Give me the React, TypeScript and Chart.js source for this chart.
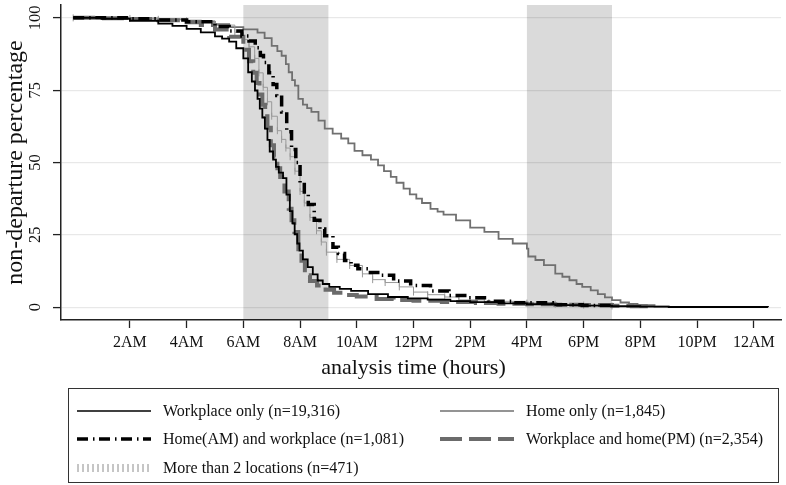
import React, { useEffect, useRef } from "react";
import { Chart, registerables } from "chart.js";

Chart.register(...registerables);

// ---- axis / tick data ----
const tickHours = [2, 4, 6, 8, 10, 12, 14, 16, 18, 20, 22, 24];
const tickLabels = ["2AM", "4AM", "6AM", "8AM", "10AM", "12PM", "2PM", "4PM", "6PM", "8PM", "10PM", "12AM"];
const yTickValues = [0, 25, 50, 75, 100];
const shadedStart = [6, 16];
const shadedEnd = [9, 19];

// ---- series ----
const workplaceHours = [0, 1, 2, 3, 3.5, 4, 4.5, 5, 5.25, 5.5, 5.75, 6, 6.17, 6.3, 6.41, 6.5, 6.58, 6.67, 6.76, 6.85, 6.93, 7.05, 7.15, 7.25, 7.4, 7.52, 7.64, 7.73, 7.81, 7.9, 7.98, 8.1, 8.27, 8.45, 8.62, 8.8, 9.03, 9.4, 9.8, 10.4, 11.1, 11.8, 12.5, 13.3, 14, 15, 16, 17, 18, 19, 20, 21, 24.5];
const workplaceValues = [100, 99.7, 99, 98, 97.2, 96.2, 95, 93.6, 92.8, 91.8, 89.5, 86, 81.2, 78, 74.9, 72, 68.6, 65.5, 61.7, 57.8, 53.8, 51, 48.5, 46.5, 44.6, 38.9, 33.2, 29, 25.2, 22, 19.5, 16.5, 13.8, 11.3, 9.2, 8, 7, 6.3, 5.6, 4.5, 3.5, 3, 2.6, 2.1, 1.7, 1.3, 1, 0.7, 0.5, 0.3, 0.15, 0.05, 0];

const homeHours = [0, 1, 2, 3, 4, 4.5, 5, 5.5, 6, 6.5, 6.75, 7, 7.2, 7.35, 7.5, 7.6, 7.72, 7.82, 7.94, 8.1, 8.25, 8.4, 8.65, 8.87, 9.15, 9.45, 9.7, 9.92, 10.2, 10.5, 10.75, 10.96, 11.2, 11.4, 11.65, 11.87, 12.1, 12.3, 12.6, 12.85, 13.06, 13.5, 14, 14.5, 15, 15.5, 16, 16.05, 16.3, 16.6, 17, 17.25, 17.5, 17.75, 17.95, 18.25, 18.5, 18.75, 19, 19.3, 19.6, 19.9, 20.5, 21];
const homeValues = [100, 99.9, 99.8, 99.5, 99, 98.6, 97.8, 96.8, 96, 94.9, 93, 90.3, 88.5, 86.9, 84, 81.2, 78.5, 76.6, 72, 70, 68.8, 67.5, 64.5, 61.7, 60, 58.3, 56.6, 54, 52.5, 51, 49, 47, 45, 43, 41, 39, 37.5, 36, 34, 33, 32, 30, 27.5, 26, 23.6, 22, 20.2, 17.5, 16.3, 14.5, 11.6, 10.5, 9.3, 8, 7, 5.8, 4.5, 3.4, 2.4, 1.6, 1.1, 0.7, 0.2, 0];

const homeAmHours = [0, 2, 3, 4, 5, 5.5, 5.95, 6.2, 6.42, 6.6, 6.71, 6.9, 7.05, 7.18, 7.35, 7.53, 7.7, 7.85, 8.0, 8.15, 8.29, 8.5, 8.7, 8.87, 9.16, 9.35, 9.57, 9.8, 10.04, 10.4, 10.74, 11.3, 11.9, 12.6, 13.25, 13.9, 14.65, 15.5, 16.9, 17.95, 19];
const homeAmValues = [100, 99.7, 99.3, 98.7, 97, 95.5, 93.7, 92, 89.7, 87, 84.6, 81, 77, 73.2, 67.5, 60.6, 54.5, 50, 43, 39, 35.5, 30, 27, 24.7, 20.7, 18.5, 16.1, 14.5, 13.3, 12, 11, 9, 7.5, 5.6, 4, 3.2, 2, 1.5, 0.8, 0.6, 0.3];

const pmHours = [0, 1, 2, 3, 4, 4.5, 5, 5.5, 6, 6.2, 6.35, 6.47, 6.57, 6.67, 6.77, 6.85, 6.97, 7.08, 7.2, 7.3, 7.45, 7.6, 7.7, 7.8, 7.94, 8.05, 8.17, 8.35, 8.6, 8.9, 9.2, 9.6, 10, 10.7, 11.3, 12, 13, 14.2, 15, 16, 17, 17.9, 19, 19.7, 20.4];
const pmValues = [100, 99.9, 99.6, 99.2, 98.5, 97.5, 96, 93.5, 89, 85, 81, 77.5, 73.5, 70, 66, 62, 56, 52, 48, 45, 40, 34, 30, 26, 20, 16, 11, 9, 7.5, 6, 5, 4.2, 3.7, 2.8, 2.5, 2.2, 1.8, 1.4, 1.2, 1, 0.8, 0.7, 0.5, 0.3, 0];

const more2Hours = [0, 2, 3, 4, 5, 5.7, 6, 6.2, 6.4, 6.55, 6.7, 6.85, 7, 7.2, 7.35, 7.5, 7.65, 7.82, 8.0, 8.15, 8.35, 8.58, 8.75, 8.93, 9.3, 9.75, 10.2, 10.56, 11, 11.5, 12, 12.5, 13.1, 13.6, 14.5, 16, 17, 18, 19];
const more2Values = [100, 99.8, 99.5, 99, 97.5, 95, 92.5, 90, 86, 81, 76, 71, 66, 61, 58, 55, 52, 47, 40, 36, 31, 26.4, 22.5, 19, 16.5, 14.4, 11.5, 9.5, 8.5, 7, 5.2, 4.3, 3.5, 2.5, 2, 1.4, 1, 0.7, 0.4];

const legendWorkplace = "Workplace only (n=19,316)";
const legendHome = "Home only (n=1,845)";
const legendHomeAm = "Home(AM) and workplace (n=1,081)";
const legendPm = "Workplace and home(PM) (n=2,354)";
const legendMore2 = "More than 2 locations (n=471)";

const yTitle = "non-departure percentage";
const xTitle = "analysis time (hours)";

const SERIF = "'Liberation Serif', 'Times New Roman', serif";

const pts = (xs: number[], ys: number[]) => xs.map((x, i) => ({ x, y: ys[i] }));

const decorPlugin = {
  id: "decor",
  beforeDraw(chart: any) {
    const { ctx, chartArea, scales } = chart;
    const x = scales.x;
    ctx.save();
    ctx.fillStyle = "#dadada";
    shadedStart.forEach((s, i) => {
      const x0 = x.getPixelForValue(s);
      const x1 = x.getPixelForValue(shadedEnd[i]);
      ctx.fillRect(x0, chartArea.top, x1 - x0, chartArea.bottom - chartArea.top);
    });
    ctx.restore();
  },
  afterDraw(chart: any) {
    const { ctx, chartArea, scales } = chart;
    const x = scales.x;
    const y = scales.y;
    ctx.save();
    ctx.fillStyle = "#111";
    ctx.textAlign = "center";
    ctx.textBaseline = "middle";
    // y tick labels (rotated)
    ctx.font = `16.5px ${SERIF}`;
    yTickValues.forEach((v) => {
      const py = y.getPixelForValue(v);
      ctx.save();
      ctx.translate(chartArea.left - 25, py);
      ctx.rotate(-Math.PI / 2);
      ctx.fillText(String(v), 0, 0);
      ctx.restore();
    });
    // x tick labels
    ctx.font = `16px ${SERIF}`;
    tickHours.forEach((h, i) => {
      ctx.fillText(tickLabels[i], x.getPixelForValue(h), chartArea.bottom + 23);
    });
    // titles
    ctx.font = `22px ${SERIF}`;
    ctx.fillText(xTitle, x.getPixelForValue(12), chartArea.bottom + 48);
    ctx.font = `24px ${SERIF}`;
    ctx.save();
    ctx.translate(16, (chartArea.top + chartArea.bottom) / 2);
    ctx.rotate(-Math.PI / 2);
    ctx.fillText(yTitle, 0, 0);
    ctx.restore();
    ctx.restore();
  },
};

function Sample({ kind }: { kind: string }) {
  const w = 74;
  const h = 12;
  if (kind === "workplace") return (<svg width={w} height={h}><line x1={0} y1={6} x2={w} y2={6} stroke="#000" strokeWidth={1.6} /></svg>);
  if (kind === "home") return (<svg width={w} height={h}><line x1={0} y1={6} x2={w} y2={6} stroke="#707070" strokeWidth={1.6} /></svg>);
  if (kind === "homeAm") return (<svg width={w} height={h}><line x1={0} y1={6} x2={w} y2={6} stroke="#000" strokeWidth={3.5} strokeDasharray="11 5 1.5 4.5" /></svg>);
  if (kind === "pm") return (<svg width={w} height={h}><line x1={0} y1={6} x2={w} y2={6} stroke="#6b6b6b" strokeWidth={4} strokeDasharray="22 7" /></svg>);
  const ticks = [];
  for (let i = 0; i < 15; i++) ticks.push(<line key={i} x1={1 + i * 5} y1={2} x2={1 + i * 5} y2={10} stroke="#8c8c8c" strokeWidth={1} />);
  return (<svg width={w} height={h}>{ticks}</svg>);
}

function LegendItem({ kind, text, left, top }: { kind: string; text: string; left: number; top: number }) {
  return (
    <div style={{ position: "absolute", left, top: top - 10, height: 20, display: "flex", alignItems: "center", whiteSpace: "nowrap" }}>
      <div style={{ width: 86, display: "flex", alignItems: "center" }}><Sample kind={kind} /></div>
      <span style={{ fontFamily: SERIF, fontSize: 16, color: "#111" }}>{text}</span>
    </div>
  );
}

export default function App() {
  const ref = useRef<HTMLCanvasElement | null>(null);
  useEffect(() => {
    document.body.style.margin = "0";
    if (!ref.current) return;
    const chart = new Chart(ref.current, {
      type: "line",
      data: {
        datasets: [
          { label: legendHomeAm, data: pts(homeAmHours, homeAmValues), borderColor: "#000", borderWidth: 3.5, borderDash: [11, 5, 1.5, 4.5], stepped: true, pointRadius: 0, order: 0 },
          { label: legendWorkplace, data: pts(workplaceHours, workplaceValues), borderColor: "#000", borderWidth: 1.8, stepped: true, pointRadius: 0, order: 1 },
          { label: legendPm, data: pts(pmHours, pmValues), borderColor: "#6b6b6b", borderWidth: 4, borderDash: [22, 7], stepped: true, pointRadius: 0, order: 2 },
          { label: legendMore2, data: pts(more2Hours, more2Values), borderColor: "#999", borderWidth: 1, stepped: true, pointStyle: "line", rotation: 90, pointRadius: 3.5, pointBorderColor: "#999", pointBorderWidth: 1, order: 3 },
          { label: legendHome, data: pts(homeHours, homeValues), borderColor: "#707070", borderWidth: 1.8, stepped: true, pointRadius: 0, order: 4 },
        ],
      },
      options: {
        animation: false,
        responsive: false,
        maintainAspectRatio: false,
        layout: { padding: { left: 53, top: 2, right: 0, bottom: 157 } },
        plugins: { legend: { display: false }, tooltip: { enabled: false } },
        elements: { line: { tension: 0 } },
        scales: {
          x: {
            type: "linear",
            min: -0.43,
            max: 24.96,
            afterBuildTicks: (axis: any) => { axis.ticks = tickHours.map((v) => ({ value: v })); },
            ticks: { display: false },
            grid: { drawOnChartArea: false, drawTicks: true, tickLength: 8, tickColor: "#222", tickWidth: 1.3 },
            border: { display: true, color: "#222", width: 1.5 },
          },
          y: {
            type: "linear",
            min: -4.45,
            max: 104.45,
            afterBuildTicks: (axis: any) => { axis.ticks = yTickValues.map((v) => ({ value: v })); },
            ticks: { display: false },
            grid: { color: "rgba(0,0,0,0.09)", lineWidth: 1.2, drawTicks: true, tickLength: 8, tickColor: "#222", tickWidth: 1.3 },
            border: { display: true, color: "#222", width: 1.5 },
          },
        },
      },
      plugins: [decorPlugin],
    } as any);
    return () => chart.destroy();
  }, []);

  return (
    <div style={{ position: "absolute", left: 0, top: 0, width: 786, height: 485, background: "#fff" }}>
      <canvas ref={ref} width={786} height={485} style={{ width: 786, height: 485, display: "block" }} />
      <div style={{ position: "absolute", left: 68, top: 388, width: 709, height: 93, border: "1.5px solid #333" }}>
        <LegendItem kind="workplace" text={legendWorkplace} left={8} top={22} />
        <LegendItem kind="home" text={legendHome} left={371} top={22} />
        <LegendItem kind="homeAm" text={legendHomeAm} left={8} top={50} />
        <LegendItem kind="pm" text={legendPm} left={371} top={50} />
        <LegendItem kind="more2" text={legendMore2} left={8} top={79} />
      </div>
    </div>
  );
}
